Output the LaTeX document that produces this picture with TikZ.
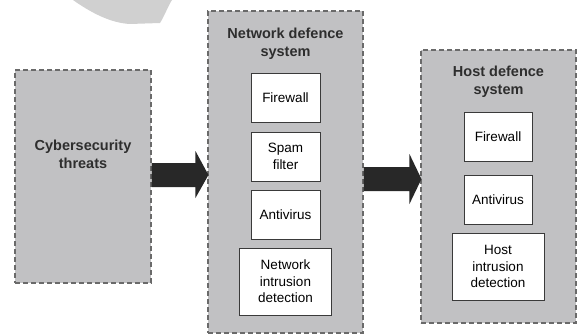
\documentclass[tikz,border=0pt]{standalone}
\usepackage{fontspec}
\setmainfont{Liberation Sans}
\usetikzlibrary{calc}
\begin{document}
\begin{tikzpicture}[x=1pt,y=-1pt,
  panel/.style={draw=panelline, fill=panelfill, dashed, dash pattern=on 5pt off 3pt, line width=1.1pt, inner sep=0pt},
  item/.style={draw=itemline, fill=white, line width=0.8pt, align=center, font=\fontsize{13.5}{16.5}\selectfont},
  paneltitle/.style={align=center, font=\bfseries\fontsize{14.5}{18}\selectfont, text=titletext},
  bigarrow/.style={fill=arrowfill, draw=none}]
\definecolor{panelfill}{HTML}{C1C1C3}
\definecolor{panelline}{HTML}{6A6A6A}
\definecolor{itemline}{HTML}{3A3A3A}
\definecolor{arrowfill}{HTML}{282828}
\definecolor{titletext}{HTML}{2E2E2E}
\definecolor{blobfill}{HTML}{D0D0D0}
\useasboundingbox (0,0) rectangle (578,334);
\fill[white] (0,0) rectangle (578,334);

% light grey shape at the top edge
\fill[blobfill] (73,0) .. controls (90,12) and (110,23) .. (130,24)
  -- (160,23) .. controls (165,15) and (168,6) .. (172,0) -- cycle;

% panels
\node[panel, minimum width=136pt, minimum height=213pt] (threatsp) at (83,176.5) {};
\node[paneltitle] (threats) at (83,154) {Cybersecurity\\threats};

\node[panel, minimum width=155pt, minimum height=322pt] (netp) at (285.5,172) {};
\node[paneltitle] (nettitle) at (285.5,44) {Network defence\\system};

\node[panel, minimum width=155pt, minimum height=273pt] (hostp) at (498.5,186.5) {};
\node[paneltitle] (hosttitle) at (498.5,82) {Host defence\\system};

% network defence items
\node[item, minimum width=69pt, minimum height=49pt] (nfw) at (285.5,97.5) {Firewall};
\node[item, minimum width=69pt, minimum height=49pt] (nspam) at (285.5,156.5) {Spam\\filter};
\node[item, minimum width=69pt, minimum height=49pt] (nav) at (285.5,214.5) {Antivirus};
\node[item, minimum width=92pt, minimum height=67pt] (nids) at (285.5,281.5) {Network\\intrusion\\detection};

% host defence items
\node[item, minimum width=68pt, minimum height=49pt] (hfw) at (498,136.5) {Firewall};
\node[item, minimum width=68pt, minimum height=49pt] (hav) at (498,199.5) {Antivirus};
\node[item, minimum width=92pt, minimum height=67pt] (hids) at (498,266.5) {Host\\intrusion\\detection};

% block arrows between panels
\coordinate (a1s) at (threatsp.east |- 0,175);
\coordinate (a1e) at ($(netp.west |- 0,175)+(1,0)$);
\coordinate (a2s) at (netp.east |- 0,179);
\coordinate (a2e) at ($(hostp.west |- 0,179)+(1,0)$);
\fill[bigarrow] ($(a1s)+(0,-12)$) -- ($(a1e)+(-13,-12)$) -- ($(a1e)+(-13,-24)$) -- (a1e)
  -- ($(a1e)+(-13,23)$) -- ($(a1e)+(-13,12)$) -- ($(a1s)+(0,12)$) -- cycle;
\fill[bigarrow] ($(a2s)+(0,-12)$) -- ($(a2e)+(-12,-12)$) -- ($(a2e)+(-12,-25)$) -- (a2e)
  -- ($(a2e)+(-12,25)$) -- ($(a2e)+(-12,12)$) -- ($(a2s)+(0,12)$) -- cycle;
\end{tikzpicture}
\end{document}
